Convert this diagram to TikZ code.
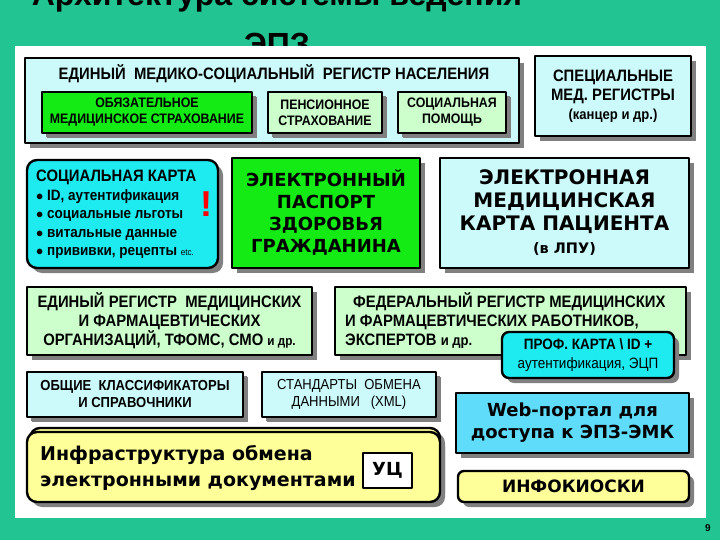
\documentclass[tikz,border=0pt]{standalone}
\usepackage{fontspec}
\setmainfont{Liberation Sans}
\newfontfamily\narrowfont[FakeStretch=0.9]{Liberation Sans}
\newfontfamily\tahomafont{DejaVu Sans}
\usetikzlibrary{shadows}
\definecolor{bgteal}{RGB}{34,196,146}
\definecolor{bgmint}{RGB}{170,232,200}
\definecolor{paleblue}{RGB}{204,250,250}
\definecolor{palegreen}{RGB}{204,255,204}
\definecolor{brightgreen}{RGB}{20,235,20}
\definecolor{cardcyan}{RGB}{30,235,240}
\definecolor{webblue}{RGB}{95,220,250}
\definecolor{paleyellow}{RGB}{255,255,153}
\begin{document}
\begin{tikzpicture}[x=1pt,y=-1pt, line join=round,
  box/.style={draw=black, line width=2.4pt, align=center, inner sep=0pt,
    font=\narrowfont\bfseries\fontsize{16.5}{19}\selectfont,
    drop shadow={shadow xshift=5pt,shadow yshift=-5pt,fill=black!50,opacity=1}},
  inbox/.style={box, line width=2pt, font=\narrowfont\bfseries\fontsize{13.75}{16}\selectfont,
    drop shadow={shadow xshift=4pt,shadow yshift=-4pt,fill=black!50,opacity=1}},
  bigtext/.style={font=\tahomafont\bfseries\fontsize{18}{22}\selectfont},
  title/.style={font=\bfseries\fontsize{32}{32}\selectfont, anchor=base}]
\useasboundingbox (0,0) rectangle (720,540);
% background and slide title
\shade[top color=bgteal, middle color=bgmint, bottom color=bgteal] (0,0) rectangle (720,540);
\node[title] (title) at (277,6) {Архитектура системы ведения};
\node[title] (titleb) at (277,56) {ЭПЗ};
\fill[white] (15,46) rectangle (706,518);
\node[font=\bfseries\fontsize{10}{10}\selectfont] (pagenum) at (708,528) {9};

% population register
\node[box, fill=paleblue, minimum width=494, minimum height=85] (reg) at (272,100.5) {};
\node[font=\narrowfont\bfseries\fontsize{16.5}{16.5}\selectfont] (regtitle) at (274,74)
  {ЕДИНЫЙ\ \ МЕДИКО-СОЦИАЛЬНЫЙ\ \ РЕГИСТР НАСЕЛЕНИЯ};
\node[inbox, fill=brightgreen, minimum width=210, minimum height=41] (oms) at (147,112.5)
  {ОБЯЗАТЕЛЬНОЕ\\МЕДИЦИНСКОЕ СТРАХОВАНИЕ};
\node[inbox, fill=palegreen, minimum width=114, minimum height=41] (pens) at (325,112.5)
  {ПЕНСИОННОЕ\\СТРАХОВАНИЕ};
\node[inbox, fill=palegreen, minimum width=108, minimum height=41] (socp) at (452,112.5)
  {СОЦИАЛЬНАЯ\\ПОМОЩЬ};
\node[box, fill=paleblue, minimum width=156, minimum height=80] (spec) at (613,96)
  {СПЕЦИАЛЬНЫЕ\\МЕД. РЕГИСТРЫ\\{\fontsize{14.5}{19}\selectfont(канцер и др.)}};

% second row
\node[box, rounded corners=10pt, fill=cardcyan, minimum width=191, minimum height=108] (scard) at (122.5,214) {};
\node[anchor=north west, align=left, inner sep=0pt, font=\narrowfont\bfseries\fontsize{15}{18.5}\selectfont] (scardtext) at (36,170)
  {{\fontsize{16.5}{18.5}\selectfont СОЦИАЛЬНАЯ КАРТА}\\
   $\bullet$ ID, аутентификация\\
   $\bullet$ социальные льготы\\
   $\bullet$ витальные данные\\
   $\bullet$ прививки, рецепты {\mdseries\fontsize{9}{9}\selectfont etc.}};
\node[text=red, font=\bfseries\fontsize{36}{36}\selectfont] (excl) at (206,204) {!};
\node[box, bigtext, fill=brightgreen, minimum width=188, minimum height=110] (epz) at (326,213)
  {ЭЛЕКТРОННЫЙ\\ПАСПОРТ\\ЗДОРОВЬЯ\\ГРАЖДАНИНА};
\node[box, bigtext, fill=paleblue, minimum width=249, minimum height=110,
  font=\tahomafont\bfseries\fontsize{20}{23}\selectfont] (emk) at (564.5,213)
  {ЭЛЕКТРОННАЯ\\МЕДИЦИНСКАЯ\\КАРТА ПАЦИЕНТА\\{\fontsize{14.5}{20}\selectfont (в ЛПУ)}};

% registers
\node[box, fill=palegreen, minimum width=285, minimum height=68] (orgreg) at (169.5,321)
  {ЕДИНЫЙ РЕГИСТР\ \ МЕДИЦИНСКИХ\\И ФАРМАЦЕВТИЧЕСКИХ\\ОРГАНИЗАЦИЙ, ТФОМС, СМО {\fontsize{13}{19}\selectfont и др.}};
\node[box, fill=palegreen, minimum width=351, minimum height=68] (fedreg) at (510.5,321) {};
\node[anchor=north west, align=left, inner sep=0pt, font=\narrowfont\bfseries\fontsize{16.5}{19}\selectfont] (fedtext) at (345,292)
  {\hspace*{8pt}ФЕДЕРАЛЬНЫЙ РЕГИСТР МЕДИЦИНСКИХ\\И ФАРМАЦЕВТИЧЕСКИХ РАБОТНИКОВ,\\ЭКСПЕРТОВ {\fontsize{14.5}{19}\selectfont и др.}};
\node[box, rounded corners=7pt, fill=cardcyan, minimum width=172, minimum height=46,
  font=\narrowfont\bfseries\fontsize{15}{19}\selectfont] (prof) at (588,355)
  {ПРОФ. КАРТА \textbackslash\ ID +\\{\mdseries аутентификация, ЭЦП}};

% reference data and exchange
\node[inbox, fill=paleblue, minimum width=216, minimum height=45, font=\narrowfont\bfseries\fontsize{14.5}{17}\selectfont] (klass) at (135,394.5)
  {ОБЩИЕ\ \ КЛАССИФИКАТОРЫ\\И СПРАВОЧНИКИ};
\node[inbox, fill=paleblue, minimum width=174, minimum height=45, font=\narrowfont\fontsize{14.5}{17}\selectfont] (std) at (349,394.5)
  {СТАНДАРТЫ\ \ ОБМЕНА\\ДАННЫМИ\ \ \ (XML)};
\node[box, bigtext, fill=webblue, minimum width=233, minimum height=60] (web) at (572.5,423)
  {Web-портал для\\доступа к ЭПЗ-ЭМК};
\node[box, rounded corners=10pt, fill=paleyellow, minimum width=410, minimum height=70] (infraback) at (235,463) {};
\node[box, rounded corners=10pt, fill=paleyellow, minimum width=413, minimum height=70] (infra) at (233.5,467) {};
\node[anchor=north west, align=left, inner sep=0pt, font=\tahomafont\bfseries\fontsize{19}{26}\selectfont] (infratext) at (40,445)
  {Инфраструктура обмена\\электронными документами};
\node[draw=black, line width=1.6pt, fill=white, minimum width=49, minimum height=35, bigtext] (uc) at (387.5,470.5) {УЦ};
\node[box, rounded corners=6pt, fill=paleyellow, minimum width=231, minimum height=31,
  font=\tahomafont\bfseries\fontsize{17}{20}\selectfont] (kiosk) at (573.5,486.5) {ИНФОКИОСКИ};
\end{tikzpicture}
\end{document}
